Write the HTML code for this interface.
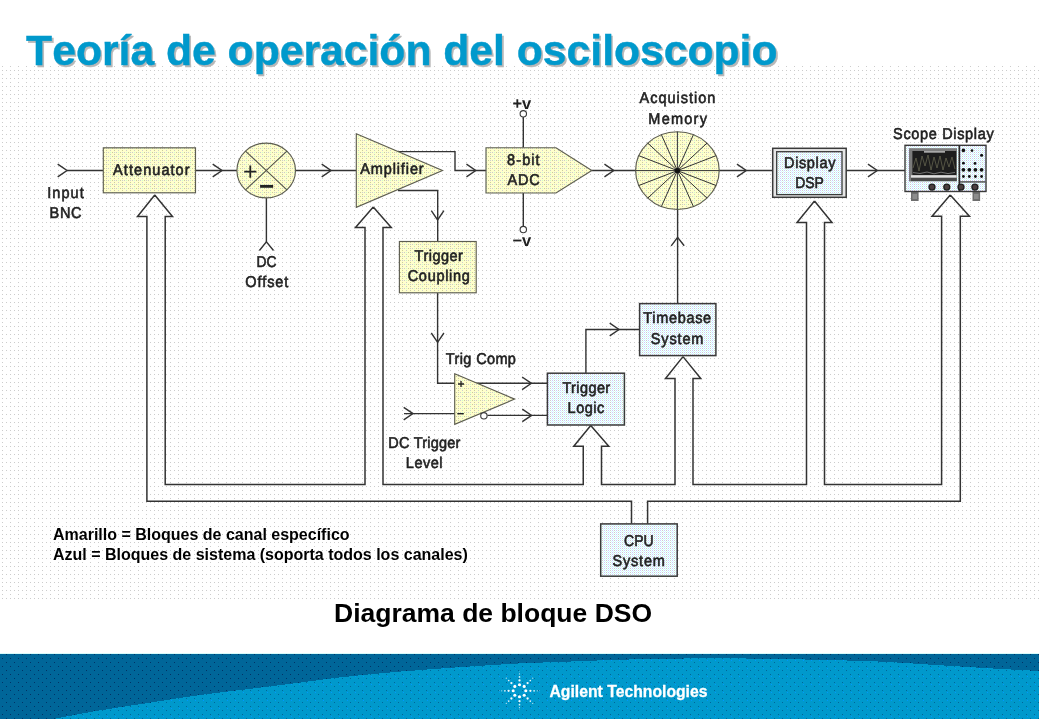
<!DOCTYPE html>
<html lang="es">
<head>
<meta charset="utf-8">
<title>Teoría de operación del osciloscopio</title>
<style>
html,body{margin:0;padding:0;background:#fff;}
body{width:1039px;height:720px;overflow:hidden;position:relative;font-family:"Liberation Sans",sans-serif;}
#slide{position:absolute;left:0;top:0;width:1039px;height:720px;display:block;}
text{font-family:"Liberation Sans",sans-serif;}
.lbl text{font-size:15.6px;fill:#222;stroke:#222;stroke-width:0.6px;text-anchor:middle;text-rendering:geometricPrecision;}
.lbl text.b{font-weight:bold;stroke-width:0;}
.lbl text.s{text-anchor:start;stroke-width:0;}
.ln{fill:none;stroke:#333;stroke-width:1.4;}
.bus{stroke-width:1.5;}
.yl{fill:url(#dy);stroke:#5e5e50;stroke-width:1.15;}
.bl{fill:url(#db);stroke:#3a3a3a;stroke-width:1.5;}
.cap{font-weight:bold;fill:#000;}
.gx{will-change:transform;}
</style>
</head>
<body>
<svg id="slide" width="1039" height="720" viewBox="0 0 1039 720">
<defs>
  <pattern id="dw" width="8" height="8" patternUnits="userSpaceOnUse" shape-rendering="crispEdges">
    <rect width="8" height="8" fill="#fff"/>
    <rect x="2" y="2" width="1" height="1" fill="#ccc"/>
    <rect x="2" y="6" width="1" height="1" fill="#ccc"/>
    <rect x="6" y="6" width="1" height="1" fill="#ccc"/>
  </pattern>
  <pattern id="dy" width="8" height="4" patternUnits="userSpaceOnUse" shape-rendering="crispEdges">
    <rect width="8" height="4" fill="#ffc"/>
    <rect x="0" y="0" width="1" height="1" fill="#cc9"/><rect x="2" y="0" width="1" height="1" fill="#ccc"/><rect x="4" y="0" width="1" height="1" fill="#ccc"/><rect x="6" y="0" width="1" height="1" fill="#cfc"/>
    <rect x="2" y="2" width="1" height="1" fill="#cc9"/><rect x="6" y="2" width="1" height="1" fill="#ccc"/>
  </pattern>
  <pattern id="db" width="4" height="2" patternUnits="userSpaceOnUse" shape-rendering="crispEdges">
    <rect width="4" height="2" fill="#fff"/>
    <rect x="0" y="0" width="1" height="1" fill="#ccf"/><rect x="2" y="0" width="1" height="1" fill="#ccc"/>
    <rect x="1" y="1" width="1" height="1" fill="#cff"/><rect x="3" y="1" width="1" height="1" fill="#cff"/>
  </pattern>
  <pattern id="dd" width="8" height="8" patternUnits="userSpaceOnUse" shape-rendering="crispEdges">
    <rect width="8" height="8" fill="#069"/>
    <rect x="2" y="2" width="1" height="1" fill="#036"/>
    <rect x="6" y="6" width="1" height="1" fill="#036"/>
  </pattern>
  <pattern id="dl" width="8" height="8" patternUnits="userSpaceOnUse" shape-rendering="crispEdges">
    <rect width="8" height="8" fill="#09c"/>
    <rect x="2" y="2" width="1" height="1" fill="#069"/>
    <rect x="6" y="6" width="1" height="1" fill="#069"/>
    <rect x="3" y="4" width="1" height="1" fill="#09f"/>
  </pattern>
</defs>

<!-- backgrounds -->
<rect x="0" y="0" width="1039" height="720" fill="#fff"/>
<rect x="0" y="65" width="1039" height="534" fill="url(#dw)" shape-rendering="crispEdges"/>

<!-- footer -->
<g id="footer" shape-rendering="crispEdges">
  <rect x="0" y="653" width="1039" height="1" fill="#d8fbfb"/>
  <rect x="0" y="654" width="1039" height="65" fill="url(#dd)"/>
  <path d="M53,719 C60.8,717.6 83.8,713.1 100,710.4 C116.2,707.7 133.3,705.3 150,702.7 C166.7,700.1 183.3,697.3 200,695 C216.7,692.7 233.3,691.0 250,688.9 C266.7,686.8 284.7,684.5 300,682.6 C315.3,680.7 327.8,678.8 342,677.2 C356.2,675.6 370.8,674.2 385,672.9 C399.2,671.6 412.8,670.6 427,669.5 C441.2,668.4 454.5,667.5 470,666.5 C485.5,665.5 506.5,664.1 520,663.4 C533.5,662.7 540.7,662.6 551,662.2 C561.3,661.8 571.8,661.5 582,661.1 C592.2,660.7 601.8,660.3 612,660 C622.2,659.7 632.7,659.4 643,659.2 C653.3,659.0 662.8,658.7 674,658.6 C685.2,658.5 695.3,658.4 710,658.4 C724.7,658.4 748.3,658.5 762,658.6 C775.7,658.7 781.8,659.0 792,659.2 C802.2,659.4 811.8,659.7 823,660 C834.2,660.3 847.2,660.4 859,660.8 C870.8,661.2 882.5,661.7 894,662.3 C905.5,662.9 916.5,663.8 928,664.5 C939.5,665.2 951.3,666.0 963,666.7 C974.7,667.4 985.3,668.1 998,668.8 C1010.7,669.5 1032.2,670.6 1039,671 L1039,719 Z" fill="url(#dl)"/>
</g>
<g id="spark" fill="#fff"><circle cx="525.8" cy="690.8" r="1.55" fill-opacity="1"/><circle cx="530.4" cy="690.8" r="1.15" fill-opacity="0.95"/><circle cx="534.1" cy="690.8" r="0.85" fill-opacity="0.85"/><circle cx="537.3" cy="690.8" r="0.6" fill-opacity="0.7"/><circle cx="539.5" cy="690.8" r="0.45" fill-opacity="0.5"/><circle cx="524.2" cy="695.2" r="1.55" fill-opacity="1"/><circle cx="527.6" cy="698.5" r="1.15" fill-opacity="0.95"/><circle cx="530.3" cy="701.1" r="0.85" fill-opacity="0.85"/><circle cx="532.7" cy="703.4" r="0.6" fill-opacity="0.7"/><circle cx="519.5" cy="696.8" r="1.55" fill-opacity="1"/><circle cx="519.5" cy="701.2" r="1.15" fill-opacity="0.95"/><circle cx="519.5" cy="704.7" r="0.85" fill-opacity="0.85"/><circle cx="519.5" cy="707.7" r="0.6" fill-opacity="0.7"/><circle cx="519.5" cy="709.8" r="0.45" fill-opacity="0.5"/><circle cx="514.8" cy="695.2" r="1.55" fill-opacity="1"/><circle cx="511.4" cy="698.5" r="1.15" fill-opacity="0.95"/><circle cx="508.7" cy="701.1" r="0.85" fill-opacity="0.85"/><circle cx="506.3" cy="703.4" r="0.6" fill-opacity="0.7"/><circle cx="513.2" cy="690.8" r="1.55" fill-opacity="1"/><circle cx="508.6" cy="690.8" r="1.15" fill-opacity="0.95"/><circle cx="504.9" cy="690.8" r="0.85" fill-opacity="0.85"/><circle cx="501.7" cy="690.8" r="0.6" fill-opacity="0.7"/><circle cx="499.5" cy="690.8" r="0.45" fill-opacity="0.5"/><circle cx="514.8" cy="686.4" r="1.55" fill-opacity="1"/><circle cx="511.4" cy="683.1" r="1.15" fill-opacity="0.95"/><circle cx="508.7" cy="680.5" r="0.85" fill-opacity="0.85"/><circle cx="506.3" cy="678.2" r="0.6" fill-opacity="0.7"/><circle cx="519.5" cy="684.8" r="1.55" fill-opacity="1"/><circle cx="519.5" cy="680.4" r="1.15" fill-opacity="0.95"/><circle cx="519.5" cy="676.9" r="0.85" fill-opacity="0.85"/><circle cx="519.5" cy="673.9" r="0.6" fill-opacity="0.7"/><circle cx="519.5" cy="671.8" r="0.45" fill-opacity="0.5"/><circle cx="524.2" cy="686.4" r="1.55" fill-opacity="1"/><circle cx="527.6" cy="683.1" r="1.15" fill-opacity="0.95"/><circle cx="530.3" cy="680.5" r="0.85" fill-opacity="0.85"/><circle cx="532.7" cy="678.2" r="0.6" fill-opacity="0.7"/></g>

<!-- title -->
<g class="gx" transform="translate(26.1,64.9)" style="font-kerning:none" font-weight="bold" font-size="42.67" stroke-width="0.4">
<text id="title-shadow" x="1.7" y="1.7" fill="#b8b8b8" stroke="#b8b8b8">Teoría de operación del osciloscopio</text>
<text id="title" x="0" y="0" fill="#0099cc" stroke="#0099cc">Teoría de operación del osciloscopio</text>
</g>

<g id="diagram">
  <path class="ln bus" d="M154.75,195.0 L137.5,216.5 L146.9,216.5 L146.9,501.2 L631.5,501.2 L631.5,523.8 M647.6,523.8 L647.6,501.2 L960.3,501.2 L960.3,216.25 L969.5,216.25 L950.25,195.0 M154.75,195.0 L172.5,216.5 L165.2,216.5 L165.2,484.5 L365.0,484.5 L365.0,227.5 L355.5,227.5 L373.25,207.0 M373.25,207.0 L391.25,227.5 L383.0,227.5 L383.0,484.5 L583.25,484.5 L583.25,446.25 L573.75,446.25 L590.75,425.6 M590.75,425.6 L608.75,446.25 L601.5,446.25 L601.5,484.5 L675.0,484.5 L675.0,378.6 L665.5,378.6 L683.0,356.6 M683.0,356.6 L700.75,378.6 L693.0,378.6 L693.0,484.5 L806.5,484.5 L806.5,222.5 L797.0,222.5 L814.5,201.0 M814.5,201.0 L832.0,222.5 L824.5,222.5 L824.5,484.5 L941.6,484.5 L941.6,216.25 L932.0,216.25 L950.25,195.0"/>
  <path class="ln" d="M67,170.5 H103.3 M195.5,170.5 H237 M295.5,170.5 H356.3 M397.5,151.6 H455 V170.5 H486 M398,190.5 H437.7 V241.5 M437.6,293 V383.3 H547.3 M266.4,198 V242 M523.3,117 V147.7 M523.3,193 V226.3 M591.5,170.5 H636 M719,170.5 H772.5 M846.3,170.5 H905 M677.6,209.5 V303.5 M585.9,373 V329.5 H639.5 M404,413.6 H455 M487.5,415.4 H547.3"/>
  <path class="ln" d="M-9.3,-6.3 L0,0 L-9.3,6.3" transform="translate(67,170.5) rotate(0)"/>
  <path class="ln" d="M-9.3,-6.3 L0,0 L-9.3,6.3" transform="translate(222,170.5) rotate(0)"/>
  <path class="ln" d="M-9.3,-6.3 L0,0 L-9.3,6.3" transform="translate(331,170.5) rotate(0)"/>
  <path class="ln" d="M-9.3,-6.3 L0,0 L-9.3,6.3" transform="translate(475.75,170.5) rotate(0)"/>
  <path class="ln" d="M-9.3,-6.3 L0,0 L-9.3,6.3" transform="translate(613.75,170.5) rotate(0)"/>
  <path class="ln" d="M-9.3,-6.3 L0,0 L-9.3,6.3" transform="translate(746.25,170.5) rotate(0)"/>
  <path class="ln" d="M-9.3,-6.3 L0,0 L-9.3,6.3" transform="translate(877.25,170.5) rotate(0)"/>
  <path class="ln" d="M-9.3,-6.3 L0,0 L-9.3,6.3" transform="translate(619,329.5) rotate(0)"/>
  <path class="ln" d="M-9.3,-6.3 L0,0 L-9.3,6.3" transform="translate(413,413.6) rotate(0)"/>
  <path class="ln" d="M-9.3,-6.3 L0,0 L-9.3,6.3" transform="translate(531.4,383.3) rotate(0)"/>
  <path class="ln" d="M-9.3,-6.3 L0,0 L-9.3,6.3" transform="translate(531.6,415.4) rotate(0)"/>
  <path class="ln" d="M-9.3,-6.3 L0,0 L-9.3,6.3" transform="translate(437.6,220) rotate(90)"/>
  <path class="ln" d="M-9.3,-6.3 L0,0 L-9.3,6.3" transform="translate(437.6,342.3) rotate(90)"/>
  <path class="ln" d="M259.4,250.5 L266.4,241.8 L273.5,250.5"/>
  <path class="ln" d="M671.2,245.8 L677.6,237.3 L684.2,245.8"/>
  <rect class="yl" x="103.3" y="147.8" width="92.2" height="45"/>
  <ellipse class="yl" cx="266.2" cy="170.5" rx="29.3" ry="27.4"/>
  <path class="ln" style="stroke:#55554a;stroke-width:1.1" d="M245.5,151.1 L286.9,189.9 M286.9,151.1 L245.5,189.9"/>
  <path class="yl" d="M356.3,133.8 L442.5,170.5 L356.3,207.3 Z"/>
  <rect class="yl" x="399.4" y="241.5" width="76.8" height="51.3"/>
  <path class="yl" d="M486,147.7 H556 L591.8,170.5 L556,193 H486 Z"/>
  <ellipse class="yl" cx="677.4" cy="170.6" rx="41.8" ry="38.9"/>
  <path class="ln" style="stroke-width:1" d="M635.6,170.6 L719.2,170.6 M638.8,155.7 L716.0,185.5 M647.8,143.1 L707.0,198.1 M661.4,134.7 L693.4,206.5 M677.4,131.7 L677.4,209.5 M693.4,134.7 L661.4,206.5 M707.0,143.1 L647.8,198.1 M716.0,155.7 L638.8,185.5"/>
  <circle cx="677.4" cy="170.6" r="2.6" fill="#111"/>
  <path class="yl" d="M454.7,373.8 L514.6,399.1 L454.7,424.3 Z"/>
  <circle cx="523.3" cy="113.8" r="3.2" fill="#fff" stroke="#3a3a3a" stroke-width="1.1"/>
  <circle cx="523.3" cy="229.6" r="3.2" fill="#fff" stroke="#3a3a3a" stroke-width="1.1"/>
  <circle cx="483.9" cy="415.8" r="3.2" fill="#fff" stroke="#3a3a3a" stroke-width="1.1"/>
  <rect x="772.7" y="148.3" width="73.5" height="49" fill="#e6e6e6" stroke="#3a3a3a" stroke-width="1.5"/>
  <rect class="bl" x="776.7" y="151.7" width="65.3" height="42.9" style="stroke-width:1.3"/>
  <rect class="bl" x="639.6" y="303.6" width="76.3" height="52"/>
  <rect class="bl" x="547.4" y="373.2" width="77" height="51.8"/>
  <rect class="bl" x="600.7" y="523.9" width="76.5" height="52.3"/>
  <g id="scope">
  <rect x="911" y="191" width="7.6" height="10" fill="#6e6e6e"/>
  <rect x="972.5" y="191" width="7.6" height="10" fill="#6e6e6e"/>
  <rect x="912.5" y="194" width="4.6" height="5" fill="#8c8c8c"/>
  <rect x="974" y="194" width="4.6" height="5" fill="#8c8c8c"/>
  <rect x="905" y="145.3" width="81" height="46.2" fill="url(#db)" stroke="#3a3a3a" stroke-width="1.4"/>
  <rect x="909" y="148.2" width="48" height="33.2" fill="#7c7c7c"/>
  <rect x="912.4" y="151" width="43.8" height="24.2" fill="#1d1d1d"/>
  <path d="M913,168 L916,158 L919,171 L922,156 L925,166 L928,155 L931,170 L934,157 L937,168 L940,156 L943,170 L946,158 L949,167 L952,157 L955,169" fill="none" stroke="#6b6b55" stroke-width="0.7"/>
  <path d="M913,172.5 L920,173.5 L927,172 L934,173.8 L941,172.2 L948,173.6 L955,172.4" fill="none" stroke="#888" stroke-width="0.8"/>
  <rect x="924" y="151.3" width="21" height="1.2" fill="#e6e6e6"/>
  <rect x="911" y="175.2" width="45.6" height="2.6" fill="#e0e0e0"/>
  <rect x="911" y="177.8" width="45.6" height="3.2" fill="#4a4a4a"/>
  <rect x="958.5" y="145.3" width="1.7" height="46.2" fill="#2a2a2a"/>
  <rect x="960" y="181.2" width="25.5" height="1.4" fill="#4a4a4a"/>
  <g fill="#111">
    <circle cx="963.4" cy="150.4" r="1.8"/><circle cx="972" cy="150.6" r="1.3"/><circle cx="981.6" cy="155.3" r="1.5"/>
    <circle cx="963.4" cy="163.2" r="1.4"/><circle cx="975" cy="163.4" r="1.4"/>
    <circle cx="963.4" cy="169.8" r="1.9"/><circle cx="969.3" cy="169.8" r="1.9"/><circle cx="975.4" cy="169.8" r="1.9"/><circle cx="981.6" cy="169.8" r="1.9"/>
    <circle cx="963.4" cy="176.5" r="1.4"/><circle cx="969.3" cy="176.5" r="1.4"/><circle cx="975.4" cy="176.5" r="1.4"/><circle cx="981.6" cy="176.5" r="1.4"/>
  </g>
  <g fill="#4a3f3f" stroke="#1e1e1e" stroke-width="1.3">
    <circle cx="932" cy="187.1" r="3"/><circle cx="946.8" cy="187.1" r="3"/><circle cx="961" cy="187.1" r="3"/><circle cx="974.9" cy="187.1" r="3"/>
  </g>
</g>
  <g class="lbl gx">
    <text transform="translate(65.45,197.80) scale(0.930,1)" textLength="39.25" lengthAdjust="spacing">Input</text>
    <text transform="translate(65.55,217.80) scale(0.930,1)" textLength="34.52" lengthAdjust="spacing">BNC</text>
    <text transform="translate(151.35,174.90) scale(0.930,1)" textLength="82.26" lengthAdjust="spacing">Attenuator</text>
    <text transform="translate(266.60,266.90) scale(0.888,1)" textLength="22.53" lengthAdjust="spacing">DC</text>
    <text transform="translate(266.85,287.40) scale(0.930,1)" textLength="46.34" lengthAdjust="spacing">Offset</text>
    <text transform="translate(391.95,173.90) scale(0.930,1)" textLength="68.28" lengthAdjust="spacing">Amplifier</text>
    <text transform="translate(438.75,261.10) scale(0.930,1)" textLength="51.94" lengthAdjust="spacing">Trigger</text>
    <text transform="translate(438.75,281.20) scale(0.930,1)" textLength="66.77" lengthAdjust="spacing">Coupling</text>
    <text transform="translate(480.88,363.75) scale(0.930,1)" textLength="75.32" lengthAdjust="spacing">Trig Comp</text>
    <text transform="translate(523.38,165.00) scale(0.930,1)" textLength="35.00" lengthAdjust="spacing">8-bit</text>
    <text transform="translate(523.62,184.60) scale(0.930,1)" textLength="34.46" lengthAdjust="spacing">ADC</text>
    <text transform="translate(677.50,103.40) scale(0.930,1)" textLength="81.51" lengthAdjust="spacing">Acquistion</text>
    <text transform="translate(677.62,123.50) scale(0.930,1)" textLength="62.96" lengthAdjust="spacing">Memory</text>
    <text transform="translate(809.70,167.60) scale(0.930,1)" textLength="55.27" lengthAdjust="spacing">Display</text>
    <text transform="translate(809.55,187.90) scale(0.895,1)" textLength="32.08" lengthAdjust="spacing">DSP</text>
    <text transform="translate(943.38,138.90) scale(0.930,1)" textLength="108.12" lengthAdjust="spacing">Scope Display</text>
    <text transform="translate(677.25,323.25) scale(0.930,1)" textLength="72.90" lengthAdjust="spacing">Timebase</text>
    <text transform="translate(677.12,343.75) scale(0.930,1)" textLength="56.51" lengthAdjust="spacing">System</text>
    <text transform="translate(586.30,393.00) scale(0.930,1)" textLength="51.40" lengthAdjust="spacing">Trigger</text>
    <text transform="translate(585.88,413.20) scale(0.930,1)" textLength="39.30" lengthAdjust="spacing">Logic</text>
    <text transform="translate(424.38,448.00) scale(0.930,1)" textLength="77.47" lengthAdjust="spacing">DC Trigger</text>
    <text transform="translate(424.12,467.50) scale(0.930,1)" textLength="39.30" lengthAdjust="spacing">Level</text>
    <text transform="translate(638.88,545.50) scale(0.897,1)" textLength="32.94" lengthAdjust="spacing">CPU</text>
    <text transform="translate(638.75,565.75) scale(0.930,1)" textLength="56.24" lengthAdjust="spacing">System</text>
    <text x="521.9" y="109" class="b" style="font-size:16.5px">+v</text>
    <text x="521.9" y="245.8" class="b" style="font-size:16.5px">−v</text>
    <text x="243.1" y="180.4" class="s" style="font-size:25px">+</text>
    <text x="259" y="195" class="s b" style="font-size:26px">−</text>
    <text x="457.4" y="387.8" class="s b" style="font-size:12px">+</text>
    <text x="456.7" y="417.8" class="s b" style="font-size:13px">−</text>
  </g>
</g>

<!-- captions -->
<g id="captions" class="gx">
<text class="cap" x="53" y="539.8" font-size="16">Amarillo = Bloques de canal específico</text>
<text class="cap" x="53" y="560" font-size="16">Azul = Bloques de sistema (soporta todos los canales)</text>
<text class="cap" x="334" y="621.6" font-size="26.5">Diagrama de bloque DSO</text>
<text x="549.5" y="696.8" font-weight="bold" font-size="16.8" fill="#fff" stroke="#fff" stroke-width="0.3" textLength="158" lengthAdjust="spacingAndGlyphs">Agilent Technologies</text>
</g>
</svg>
</body>
</html>
